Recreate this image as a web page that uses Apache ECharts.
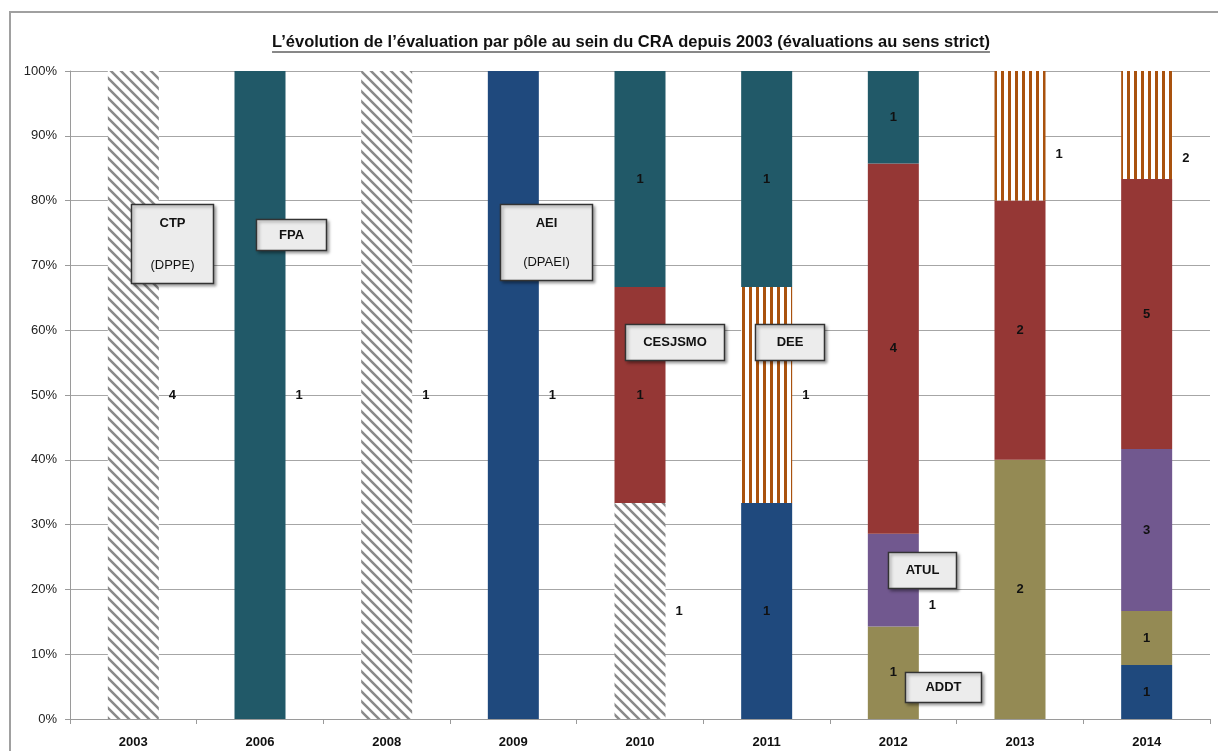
<!DOCTYPE html>
<html>
<head>
<meta charset="utf-8">
<title>Evaluation par pôle</title>
<script src="https://cdn.jsdelivr.net/npm/echarts@6/dist/echarts.min.js"></script>
<style>
  * { margin: 0; padding: 0; }
  body { background: #fff; }
  #main { width: 1218px; height: 751px; }
</style>
</head>
<body>
<div id="main"></div>
<script>
// categories and counts per pole (bottom -> top of stack)
var years   = ['2003', '2006', '2008', '2009', '2010', '2011', '2012', '2013', '2014'];
var ctp     = [4, 0, 1, 0, 1, 0, 0, 0, 0];
var aei     = [0, 0, 0, 1, 0, 1, 0, 0, 1];
var addt    = [0, 0, 0, 0, 0, 0, 1, 2, 1];
var atul    = [0, 0, 0, 0, 0, 0, 1, 0, 3];
var cesjsmo = [0, 0, 0, 0, 1, 0, 4, 2, 5];
var dee     = [0, 0, 0, 0, 0, 1, 0, 1, 2];
var fpa     = [0, 1, 0, 0, 1, 1, 1, 0, 0];
var yTicks  = [0, 10, 20, 30, 40, 50, 60, 70, 80, 90, 100];

var title = 'L\u2019évolution de l\u2019évaluation par pôle au sein du CRA depuis 2003 (évaluations au sens strict)';

// hatch patterns
function diagPattern() {
    var c = document.createElement('canvas');
    c.width = 10; c.height = 10;
    var g = c.getContext('2d');
    g.fillStyle = '#fff'; g.fillRect(0, 0, 10, 10);
    g.strokeStyle = '#8a8a8a'; g.lineWidth = 2.5;
    g.beginPath();
    g.moveTo(-2, -2); g.lineTo(12, 12);
    g.moveTo(-2, 8); g.lineTo(2, 12);
    g.moveTo(8, -2); g.lineTo(12, 2);
    g.stroke();
    return c;
}
function vertPattern() {
    var c = document.createElement('canvas');
    c.width = 7; c.height = 7;
    var g = c.getContext('2d');
    g.fillStyle = '#fff'; g.fillRect(0, 0, 7, 7);
    g.fillStyle = '#a9520e'; g.fillRect(0, 0, 3, 7);
    return c;
}

var totals = years.map(function (y, i) {
    return ctp[i] + aei[i] + addt[i] + atul[i] + cesjsmo[i] + dee[i] + fpa[i];
});

// labels drawn beside the bar instead of inside (hatched poles, full bars, a few moved by hand)
var sideLabels = { CTP: true, DEE: true };
var labelShift = { 'ATUL-2012': 25, 'DEE-2013': 19, 'DEE-2014': 33 };

function makeSeries(name, counts, color) {
    return {
        name: name,
        type: 'bar',
        stack: 'all',
        barWidth: 51,
        itemStyle: { color: color },
        label: {
            show: true,
            position: 'inside',
            color: '#111',
            fontWeight: 'bold',
            fontSize: 13,
            fontFamily: 'Liberation Sans',
            formatter: function (p) { return counts[p.dataIndex]; }
        },
        data: counts.map(function (v, i) {
            if (!v) return null;
            var item = { value: v / totals[i] * 100 };
            var key = name + '-' + years[i];
            if (sideLabels[name] || v === totals[i] || labelShift[key] !== undefined) {
                item.label = { position: 'right', distance: 10, offset: [0, labelShift[key] || 0] };
            }
            return item;
        })
    };
}

var myChart = echarts.init(document.getElementById('main'));

var option = {
    animation: false,
    grid: { left: 70, right: 8, top: 71, bottom: 32 },
    xAxis: {
        type: 'category',
        data: years,
        axisLine: { lineStyle: { color: '#9a9a9a', width: 1 } },
        axisTick: { show: true, length: 5, lineStyle: { color: '#9a9a9a' } },
        axisLabel: { color: '#111', fontWeight: 'bold', fontSize: 13, fontFamily: 'Liberation Sans', margin: 17 }
    },
    yAxis: {
        type: 'value',
        min: 0, max: 100, interval: 10,
        axisLine: { show: true, lineStyle: { color: '#9a9a9a', width: 1 } },
        axisTick: { show: true, length: 5, lineStyle: { color: '#9a9a9a' } },
        splitLine: { lineStyle: { color: '#a6a6a6', width: 1 } },
        axisLabel: {
            color: '#222', fontSize: 13, fontFamily: 'Liberation Sans', margin: 13,
            formatter: function (v) { return yTicks.indexOf(v) >= 0 ? v + '%' : ''; }
        }
    },
    series: [
        makeSeries('CTP', ctp, { image: diagPattern(), repeat: 'repeat' }),
        makeSeries('AEI', aei, '#1f497d'),
        makeSeries('ADDT', addt, '#948a54'),
        makeSeries('ATUL', atul, '#71588f'),
        makeSeries('CESJSMO', cesjsmo, '#953735'),
        makeSeries('DEE', dee, { image: vertPattern(), repeat: 'repeat' }),
        makeSeries('FPA', fpa, '#215968')
    ]
};
myChart.setOption(option);

// callout boxes: anchor [year, %] plus pixel nudge, box size
var boxes = [
    { lines: ['CTP', '(DPPE)'], year: '2003', pct: 79.5, dx: -2,  w: 82, h: 79 },
    { lines: ['FPA'],           year: '2006', pct: 77.2, dx: -4,  w: 70, h: 31 },
    { lines: ['AEI', '(DPAEI)'], year: '2009', pct: 79.5, dx: -13, w: 92, h: 76 },
    { lines: ['CESJSMO'],       year: '2010', pct: 61,   dx: -15, w: 99, h: 36 },
    { lines: ['DEE'],           year: '2011', pct: 61,   dx: -12, w: 69, h: 36 },
    { lines: ['ATUL'],          year: '2012', pct: 25.8, dx: -5,  w: 68, h: 36 },
    { lines: ['ADDT'],          year: '2012', pct: 7.3,  dx: 12,  w: 76, h: 30 }
];

function measure(txt, font) {
    var g = document.createElement('canvas').getContext('2d');
    g.font = font;
    return g.measureText(txt).width;
}

var graphics = [];
// outer frame
graphics.push({ type: 'rect', shape: { x: 10, y: 12, width: 1230, height: 760 },
    style: { fill: null, stroke: '#a0a0a0', lineWidth: 2 }, silent: true });
// title + underline
var tFont = 'bold 16.5px "Liberation Sans"';
var tw = measure(title, tFont);
graphics.push({ type: 'text', x: 631, y: 42,
    style: { text: title, font: tFont, fill: '#111', align: 'center', verticalAlign: 'middle' } });
graphics.push({ type: 'line', shape: { x1: 631 - tw / 2, y1: 52, x2: 631 + tw / 2, y2: 52 },
    style: { stroke: '#111', lineWidth: 1 } });

boxes.forEach(function (b) {
    var p = myChart.convertToPixel({ gridIndex: 0 }, [b.year, b.pct]);
    var x = Math.round(p[0] + b.dx) + 0.5, y = Math.round(p[1]) + 0.5;
    var bold = 'bold 13px "Liberation Sans"';
    graphics.push({
        type: 'rect', z: 100, x: x, y: y, shape: { x: 0, y: 0, width: b.w, height: b.h },
        style: { fill: '#ececec', stroke: '#333', lineWidth: 1.5,
                 shadowColor: 'rgba(0,0,0,0.35)', shadowBlur: 3, shadowOffsetX: 2, shadowOffsetY: 2 }
    });
    if (b.lines.length === 1) {
        graphics.push({ type: 'text', z: 101, x: x + b.w / 2, y: y + b.h / 2,
            style: { text: b.lines[0], font: bold, fill: '#111', align: 'center', verticalAlign: 'middle' } });
    } else {
        graphics.push({ type: 'text', z: 101, x: x + b.w / 2, y: y + 19,
            style: { text: b.lines[0], font: bold, fill: '#111', align: 'center', verticalAlign: 'middle' } });
        graphics.push({ type: 'text', z: 101, x: x + b.w / 2, y: y + b.h - 18,
            style: { text: b.lines[1], font: '13px "Liberation Sans"', fill: '#111', align: 'center', verticalAlign: 'middle' } });
    }
});

myChart.setOption({ graphic: graphics });

window.addEventListener('resize', function () { myChart.resize(); });
</script>
</body>
</html>
